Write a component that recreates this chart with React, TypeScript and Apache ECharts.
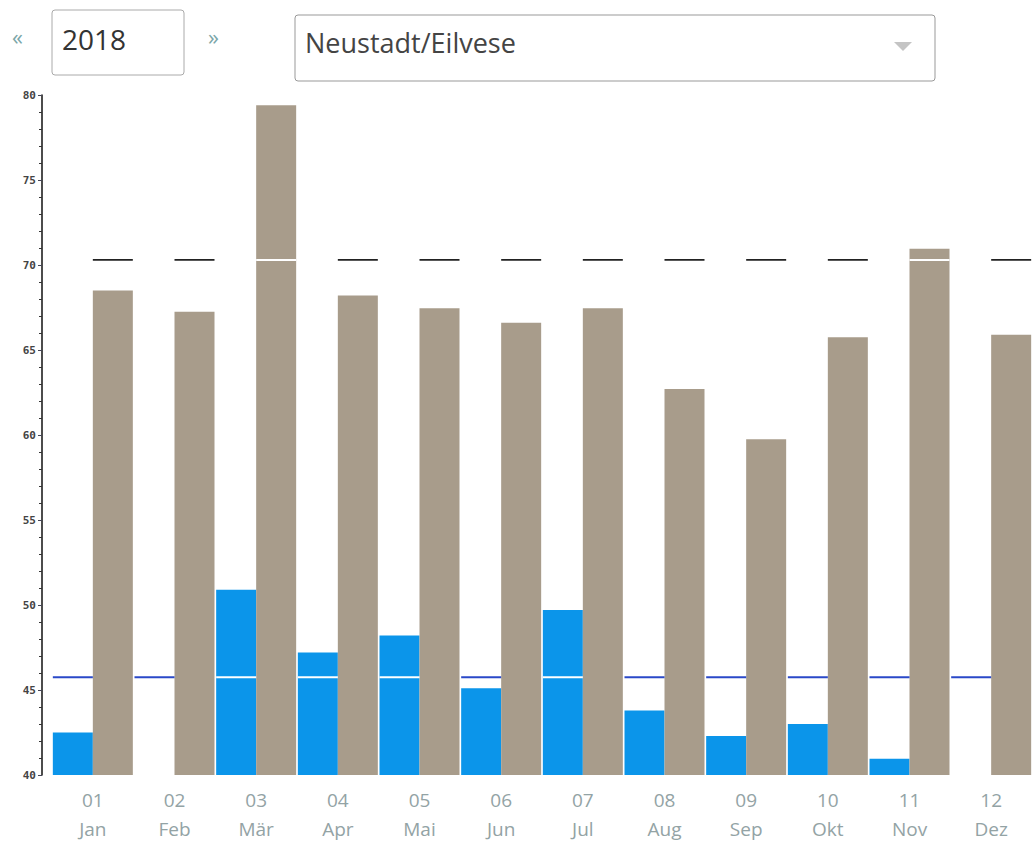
import React, { useEffect, useRef } from "react";
import * as echarts from "echarts";

const monthNumbers = ["01", "02", "03", "04", "05", "06", "07", "08", "09", "10", "11", "12"];
const monthNames = ["Jan", "Feb", "Mär", "Apr", "Mai", "Jun", "Jul", "Aug", "Sep", "Okt", "Nov", "Dez"];
const blueValues: (number | null)[] = [42.5, null, 50.9, 47.2, 48.2, 45.1, 49.7, 43.8, 42.3, 43.0, 40.95, null];
const grayValues: number[] = [68.5, 67.25, 79.4, 68.2, 67.45, 66.6, 67.45, 62.7, 59.75, 65.75, 70.95, 65.9];
const blueAverage = 45.75;
const grayAverage = 70.3;
const yearLabel = "2018";
const stationLabel = "Neustadt/Eilvese";

export default function App() {
  const ref = useRef<HTMLDivElement>(null);
  useEffect(() => {
    if (!ref.current) return;
    const chart = echarts.init(ref.current, undefined, { renderer: "svg" });
    const categories = monthNumbers.map((n, i) => n + "\n" + monthNames[i]);
    const BAR = 40;
    chart.setOption({
      animation: false,
      grid: { left: 52, right: 1, top: 95, bottom: 76 },
      xAxis: {
        type: "category",
        data: categories,
        axisLine: { show: false },
        axisTick: { show: false },
        axisLabel: {
          color: "#93a3a5",
          fontFamily: "Open Sans",
          fontSize: 19,
          lineHeight: 29,
          margin: 10,
        },
      },
      yAxis: {
        type: "value",
        min: 40,
        max: 80,
        interval: 5,
        offset: 10,
        axisLine: { show: true, lineStyle: { color: "#111", width: 1.5 } },
        axisTick: { show: true, length: 4, lineStyle: { color: "#445" } },
        minorTick: { show: true, splitNumber: 5, length: 3, lineStyle: { color: "#333" } },
        splitLine: { show: false },
        axisLabel: {
          color: "#444",
          fontSize: 11,
          fontWeight: "bold",
          fontFamily: "DejaVu Sans Mono",
          margin: 6,
        },
      },
      series: [
        {
          type: "bar",
          data: blueValues,
          barWidth: BAR,
          barGap: "0%",
          itemStyle: { color: "#0b95ea" },
        },
        {
          type: "bar",
          data: grayValues,
          barWidth: BAR,
          barGap: "0%",
          itemStyle: { color: "#a89c8b" },
        },
        {
          type: "custom",
          z: 5,
          data: grayValues.map((g, i) => [i, blueValues[i] == null ? 0 : (blueValues[i] as number), g]),
          renderItem: (params: any, api: any) => {
            const i = api.value(0);
            const b = api.value(1);
            const g = api.value(2);
            const pb = api.coord([i, blueAverage]);
            const pg = api.coord([i, grayAverage]);
            const cx = pb[0];
            return {
              type: "group",
              children: [
                {
                  type: "line",
                  shape: { x1: cx - BAR, y1: pb[1], x2: cx, y2: pb[1] },
                  style: { stroke: b > blueAverage ? "#ffffff" : "#2a49c8", lineWidth: 2 },
                },
                {
                  type: "line",
                  shape: { x1: cx, y1: pg[1], x2: cx + BAR, y2: pg[1] },
                  style: { stroke: g > grayAverage ? "#ffffff" : "#222222", lineWidth: g > grayAverage ? 2 : 1.6 },
                },
              ],
            };
          },
        },
      ],
      graphic: [
        { type: "text", left: 12, top: 25, style: { text: "«", fontSize: 22, fill: "#7aa6a8", fontFamily: "Open Sans" } },
        {
          type: "rect",
          shape: { x: 52, y: 10, width: 132, height: 65, r: 3 },
          style: { fill: "#fff", stroke: "#aaa", lineWidth: 1 },
        },
        { type: "text", left: 62, top: 25, style: { text: yearLabel, fontSize: 28, fill: "#333", fontFamily: "Open Sans" } },
        { type: "text", left: 208, top: 25, style: { text: "»", fontSize: 22, fill: "#7aa6a8", fontFamily: "Open Sans" } },
        {
          type: "rect",
          shape: { x: 295, y: 15, width: 640, height: 66, r: 3 },
          style: { fill: "#fff", stroke: "#999", lineWidth: 1 },
        },
        { type: "text", left: 305, top: 29, style: { text: stationLabel, fontSize: 27, fill: "#444", fontFamily: "Open Sans" } },
        {
          type: "polygon",
          shape: { points: [[894, 42], [912, 42], [903, 51]] },
          style: { fill: "#c4c4c4" },
        },
      ],
    });
    return () => chart.dispose();
  }, []);
  return (
    <div
      ref={ref}
      style={{ position: "fixed", left: 0, top: 0, width: 1033, height: 851, background: "#fff" }}
    />
  );
}
